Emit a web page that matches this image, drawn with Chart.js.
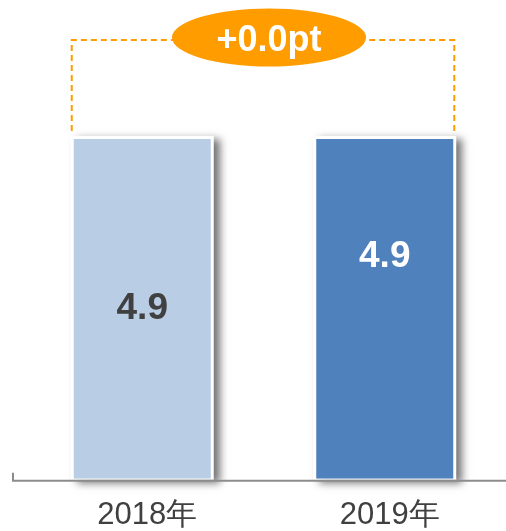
<!DOCTYPE html>
<html>
<head>
<meta charset="utf-8">
<script src="https://cdn.jsdelivr.net/npm/chart.js@4"></script>
<style>
  html, body { margin: 0; padding: 0; background: #fff; }
  #wrap { width: 506px; height: 531px; }
</style>
</head>
<body>
<div id="wrap"><canvas id="chart"></canvas></div>
<script>
const years = ['2018年', '2019年'];
const values = [4.9, 4.9];
const diffLabel = '+0.0pt';

const barColors = ['#B9CDE5', '#4F81BD'];
const valueColors = ['#404040', '#FFFFFF'];
const labelAt = [0.5, 0.653]; // where the value sits, share of bar height
const orange = '#FF9C00';

// white frame + drop shadow behind each bar
const shadowPlugin = {
    id: 'barShadow',
    beforeDatasetsDraw(chart) {
        const ctx = chart.ctx;
        const meta = chart.getDatasetMeta(0);
        ctx.save();
        meta.data.forEach(bar => {
            const w = bar.width;
            ctx.shadowColor = 'rgba(0,0,0,0.55)';
            ctx.shadowBlur = 8;
            ctx.shadowOffsetX = 6;
            ctx.shadowOffsetY = 3;
            ctx.fillStyle = '#fff';
            ctx.fillRect(bar.x - w / 2 - 3, bar.y - 3, w + 6, bar.base - bar.y + 4);
        });
        ctx.restore();
    }
};

const decoPlugin = {
    id: 'deco',
    afterDraw(chart) {
        const ctx = chart.ctx;
        const area = chart.chartArea;
        const meta = chart.getDatasetMeta(0);
        const b1 = meta.data[0], b2 = meta.data[1];

        // axis line
        ctx.save();
        ctx.strokeStyle = '#8C8C8C';
        ctx.lineWidth = 2;
        ctx.beginPath();
        ctx.moveTo(13, area.bottom - 6);
        ctx.lineTo(13, area.bottom + 2);
        ctx.lineTo(chart.width, area.bottom + 2);
        ctx.stroke();
        ctx.restore();

        // value labels
        ctx.save();
        ctx.font = 'bold 37px "Liberation Sans", Arial, sans-serif';
        ctx.textAlign = 'center';
        ctx.textBaseline = 'middle';
        meta.data.forEach((bar, i) => {
            ctx.fillStyle = valueColors[i];
            const y = bar.base - (bar.base - bar.y) * labelAt[i];
            ctx.fillText(values[i].toFixed(1), bar.x, y);
        });
        ctx.restore();

        // dashed bracket
        const left = b1.x - b1.width / 2 - 2;
        const right = b2.x + b2.width / 2 + 1;
        const topY = 40;
        const cx = (left + right) / 2 + 6;
        const cy = 37.5;
        ctx.save();
        ctx.strokeStyle = orange;
        ctx.lineWidth = 2;
        ctx.setLineDash([6, 4]);
        ctx.beginPath();
        ctx.moveTo(left, b1.y - 8);
        ctx.lineTo(left, topY);
        ctx.lineTo(cx, topY);
        ctx.moveTo(right, b2.y - 8);
        ctx.lineTo(right, topY);
        ctx.lineTo(cx, topY);
        ctx.stroke();
        ctx.setLineDash([]);

        // bubble
        ctx.fillStyle = orange;
        ctx.beginPath();
        ctx.ellipse(cx, cy, 97, 29, 0, 0, Math.PI * 2);
        ctx.fill();
        ctx.fillStyle = '#fff';
        ctx.font = 'bold 36px "Liberation Sans", Arial, sans-serif';
        ctx.textAlign = 'center';
        ctx.textBaseline = 'middle';
        ctx.fillText(diffLabel, cx, cy + 4);
        ctx.restore();
    }
};

new Chart(document.getElementById('chart').getContext('2d'), {
    type: 'bar',
    data: {
        labels: years,
        datasets: [{
            data: values,
            backgroundColor: barColors,
            borderWidth: 0,
            barPercentage: 1,
            categoryPercentage: 0.565
        }]
    },
    options: {
        responsive: true,
        maintainAspectRatio: false,
        animation: false,
        layout: { padding: { top: 21, left: 21, right: 0, bottom: -21 } },
        plugins: { legend: { display: false }, tooltip: { enabled: false } },
        scales: {
            y: { display: false, min: 0, max: 6.6 },
            x: {
                grid: { display: false, drawTicks: false },
                border: { display: false },
                ticks: {
                    color: '#404040',
                    padding: 18,
                    labelOffset: 5,
                    font: { family: '"Liberation Sans", Arial, sans-serif', size: 31 }
                }
            }
        }
    },
    plugins: [shadowPlugin, decoPlugin]
});
</script>
</body>
</html>
